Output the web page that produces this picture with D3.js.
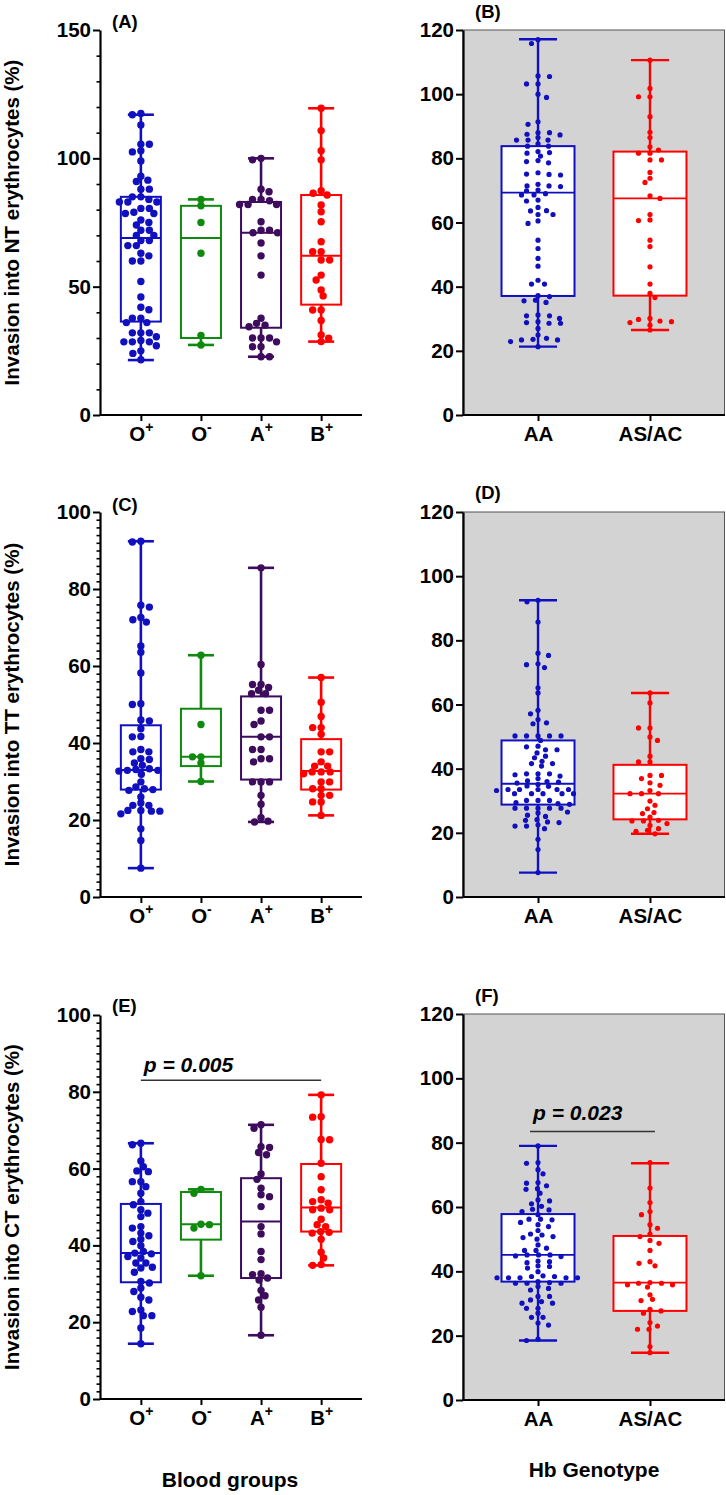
<!DOCTYPE html>
<html><head><meta charset="utf-8">
<script src="https://cdn.jsdelivr.net/npm/d3@7"></script>
<style>
body{margin:0;background:#fff}
svg{display:block}
text{font-family:"Liberation Sans",Arial,Helvetica,sans-serif;font-weight:bold}
</style>
</head><body>
<svg id="c" width="726" height="1495"></svg>
<script>
// ---------------- DATA ----------------
const bloodGroups = ["O+", "O-", "A+", "B+"];
const hbGenotypes = ["AA", "AS/AC"];
const bloodColors = ["#1010c0", "#0f8a0f", "#3d0c5c", "#ff0000"];
const hbColors = ["#1010c0", "#ff0000"];

const ticksNT = [0, 50, 100, 150];
const ticks100 = [0, 20, 40, 60, 80, 100];
const ticks120 = [0, 20, 40, 60, 80, 100, 120];

// box stats: [min, Q1, median, Q3, max]
const ntBloodStats = [[21.4, 36.4, 69, 85, 117], [27.3, 30, 69, 81.5, 84], [22.7, 34, 71, 83, 100], [28.6, 43, 62, 85.7, 119.5]];
const ntBloodPts = [
  [117.5,117,113,105.5,105.5,103,102.5,99,93,91.5,91,88,88,85,85,83,84,83,83,80.5,79,80.5,78.5,78.5,76,75,74,72,72,70,70,68,68,66,66,63,62,60,60,52,46,42,41,37.7,37.7,36,36,32,32,32,30.5,27,29,28.5,28.5,28.5,25,24,21.5],
  [84,81.5,75,63,31,27.3],
  [100,99.4,88,87,84,84,82,82,82,83.5,75.3,72,72,71,71,67,62,54.5,37.7,35.7,35,34.4,30,28.5,30,30,26.6,26.6,22.7,22.7],
  [119.5,110.8,103,99.4,85.7,87.4,86.4,81.8,79.2,75.3,67.5,63.6,63.6,60.4,60.4,54.5,52.6,48.7,46.4,40.9,40.9,36.8,31.2,29.9,28.6]
];
const ntHbStats = [[21.3, 37.1, 69.3, 83.8, 117.1], [26.5, 37.2, 67.5, 82.1, 110.6]];
const ntHbPts = [
  [117,115.8,105.5,105.7,103.2,103.2,100,99,91.4,90.6,88,88,87.3,87.5,86.5,85.7,85.7,85.7,84.5,83.8,83.8,82.1,81.8,81.6,80.7,79,78.6,79.3,75.5,75.1,75,74.8,71.9,71.4,71.4,71.2,70.1,69.9,69,68.6,68.6,67,66.7,64.7,63.7,63.6,62.5,62.5,60.5,59.7,54.5,51.9,48.8,46.4,42,40.8,40.8,37.2,36.9,35.6,35.1,35.8,31.2,30.9,30.9,30.1,29.1,28.6,28.6,28.8,27,24.9,23.4,23.6,23.9,23.4,22.9,21.3],
  [110.6,101.8,99.2,99.2,93,88.1,86.5,83.6,82.6,81.6,81.6,79.5,79.5,75.6,73.8,72.5,68.3,67.5,62.5,60.8,60.6,54.5,52.5,46.2,40.8,37.9,36.6,30.1,29.8,29.3,29.1,28.8,28,26.5]
];

const ttBloodStats = [[7.5, 27.9, 33, 44.6, 92.4], [30, 34, 36.4, 48.9, 62.8], [19.5, 30.5, 41.6, 52.1, 85.5], [21.2, 27.9, 32.7, 41, 57]];
const ttBloodPts = [
  [92.4,92.2,75.8,75.3,72.6,72,71.4,65.2,63.6,58.2,50.2,50,46,45.7,43.7,41.7,41.6,38.3,37.7,37.7,35.9,35.7,34.8,34.2,33.3,33.1,32.9,32.7,32.9,31.9,29.9,28.6,28.1,27.9,27.7,26,24.4,23.8,23.8,22.5,22.3,22.5,22.3,21.6,17.7,14.7,7.5],
  [62.8,44.8,36.4,36.4,34.8,30],
  [85.5,60.4,55.2,55.2,54.4,53.7,52.8,52.8,48.5,48.5,45.7,44.8,41.6,41.6,38.3,38.3,35.9,35.9,35.1,29.9,29.9,29.9,26.4,24.1,20.6,19.7,19.5],
  [57,50.6,46.9,44,44,42.3,37.7,37.7,35.1,34,34,32.5,32.5,32.5,32,29.9,29.9,28.1,28.1,26.4,26.4,24.7,24.7,21.2]
];
const ttHbStats = [[7.6, 28.8, 35.3, 48.8, 92.5], [19.7, 24.2, 32.2, 41.2, 63.6]];
const ttHbPts = [
  [92.5,92,85.7,76,75.3,72.7,72.4,71.5,65.2,63.6,58.2,57.1,55.3,54.3,54,50.2,50.2,50.2,50.2,50.2,48.8,47,46.8,45.9,45.9,44.9,43.9,43.4,42.3,41.6,41.6,40.8,38.4,38.1,38.4,37.7,38.4,36.9,36.2,36,35.8,35.1,35.5,34.6,34.5,33.5,33.2,33.5,33.5,33.5,33.5,32.2,32.2,32.2,32.2,32.2,30.1,30.1,30.1,29.4,28.9,29.1,27.7,27.7,27.7,27.7,27.7,26.5,26.2,25.1,25.5,24.1,23.9,23.4,23.2,22.5,22.1,21.3,22.1,18,14.8,7.6],
  [63.6,60.5,52.7,52.7,49.9,48.8,43.9,42.1,42.1,37.9,37.9,36.9,35.6,34.8,33.2,32.2,32.2,32.2,29.9,28.6,27.5,26.3,26,24.9,23.9,23.7,23.7,22.9,22.3,21.3,20.8,20.5,19.7]
];

const ctBloodStats = [[14.4, 30.4, 38, 50.8, 66.6], [32.1, 41.5, 45.5, 53.9, 54.6], [16.6, 31.5, 46.2, 57.5, 71.4], [34.8, 43.6, 49.9, 61.2, 79.2]];
const ctBloodPts = [
  [66.6,66.2,62,60.5,59.4,59.2,56.6,56.6,55.3,53.6,51.4,50.6,49.3,48.4,47.5,44.9,44.5,43.2,42.5,41.6,41,39.9,38.4,37.8,38,37.1,36.7,35.4,35.4,34.3,34.1,33,30.6,30.2,28.9,28,26.5,25.8,23.2,22.8,21.7,21.7,18.5,14.4],
  [54.6,53.6,45.5,45.4,44.5,32.1],
  [71.4,70.5,65.7,65.5,64.2,63.6,58.6,57.2,54.9,53.2,52.7,50.1,44.9,43,38.4,36.3,32.6,32.4,31.5,31,28.3,26.9,25.8,23.9,16.6],
  [79.2,73.5,73.4,67.6,67.5,61.4,57.9,54.5,51.9,51.4,51,49.7,49.3,49.3,46.8,45.4,44.9,43.6,43.4,43.2,41.6,38.2,36.7,35,34.8]
];
const ctHbStats = [[18.5, 36.8, 45.1, 57.8, 79], [14.7, 27.7, 36.5, 51, 73.6]];
const ctHbPts = [
  [79,73.8,73.6,71.6,70.3,67.6,67.4,66.6,65.7,65.5,64.3,62.2,61.9,61,60.2,59.3,59.1,58.6,57.6,56.2,56,56.2,55.2,54.5,53.9,52.7,51.6,51.3,50.8,50.5,50,48.2,47.2,46.5,46.5,45.1,45.1,45.1,44.8,44.6,43.2,43,42.7,41.7,41.5,41,39.9,38.4,38,38,38,38,38,38.4,38.6,36.8,36.3,36.5,36.3,36.3,35.3,34.7,34.2,32.2,32.2,31.1,30.6,30.1,30.1,28.5,28.5,27,25.7,25.7,23.9,23.3,18.9,18.5],
  [73.8,65.9,61.4,58.6,57.6,54.5,53.4,51.6,50.8,49.6,48.7,46.5,43,42.5,41.7,36.5,36.3,36.3,35.8,35.8,35.1,32.7,31.3,30.9,28.2,27.7,27,24.1,23,22,22,16.6,14.7]
];

// significance annotations: [from category, to category, level, label]
const sigE = ["O+", "B+", 83, "p = 0.005"];
const sigF = ["AA", "AS/AC", 83.5, "p = 0.023"];

// ---------------- DRAW ----------------
const svg = d3.select("#c");
const FONT = '"Liberation Sans",Arial,Helvetica,sans-serif';

// beeswarm with elliptical spacing (wider horizontally, overlapping vertically)
function swarm(values, y, sx, sy) {
  const placed = [];
  const out = new Array(values.length);
  const order = values.map((v, i) => i).sort((a, b) => values[b] - values[a]);
  let flip = 1;
  for (const i of order) {
    const py = y(values[i]);
    let best = 0;
    for (let k = 0; k < 800; k++) {
      const off = (k % 2 === 0 ? 1 : -1) * flip * Math.ceil(k / 2) * 0.5;
      let ok = true;
      for (const p of placed) {
        const dx = (p.x - off) / sx, dy = (p.y - py) / sy;
        if (dx * dx + dy * dy < 1) { ok = false; break; }
      }
      if (ok) { best = off; break; }
    }
    if (best !== 0) flip = -flip;
    placed.push({ x: best, y: py });
    out[i] = best;
  }
  return out;
}

function drawPanel(cfg) {
  const g = svg.append("g");
  const x = d3.scalePoint().domain(cfg.cats).range([cfg.x0, cfg.x1]).padding(cfg.pad);
  const y = d3.scaleLinear().domain([0, cfg.yMax]).range([cfg.yBot, cfg.yTop]);

  if (cfg.gray) {
    g.append("rect").attr("x", cfg.x0).attr("y", cfg.yTop)
      .attr("width", cfg.x1 - cfg.x0 - 0.5).attr("height", cfg.yBot - cfg.yTop)
      .attr("fill", "#d3d3d3").attr("stroke", "#555").attr("stroke-width", 1);
  }

  cfg.cats.forEach((c, i) => {
    const [mn, q1, md, q3, mx] = cfg.stats[i];
    const cx = x(c), col = cfg.colors[i];
    const wg = g.append("g").attr("stroke", col).attr("fill", "none");
    wg.append("line").attr("x1", cx).attr("x2", cx).attr("y1", y(q3)).attr("y2", y(mx)).attr("stroke-width", cfg.ww);
    wg.append("line").attr("x1", cx).attr("x2", cx).attr("y1", y(q1)).attr("y2", y(mn)).attr("stroke-width", cfg.ww);
    [mn, mx].forEach(v => wg.append("line").attr("x1", cx - cfg.capHalf).attr("x2", cx + cfg.capHalf)
      .attr("y1", y(v)).attr("y2", y(v)).attr("stroke-width", cfg.ww));
    wg.append("rect").attr("x", cx - cfg.boxHalf).attr("y", y(q3))
      .attr("width", 2 * cfg.boxHalf).attr("height", y(q1) - y(q3))
      .attr("fill", cfg.gray ? "#fff" : "none").attr("stroke-width", 2);
    wg.append("line").attr("x1", cx - cfg.boxHalf).attr("x2", cx + cfg.boxHalf)
      .attr("y1", y(md)).attr("y2", y(md)).attr("stroke-width", cfg.mw);
    const offs = swarm(cfg.pts[i], y, cfg.sx, cfg.sy);
    g.append("g").selectAll("circle").data(cfg.pts[i]).join("circle")
      .attr("cx", (d, j) => cx + offs[j]).attr("cy", d => y(d)).attr("r", cfg.r).attr("fill", col);
  });

  // y axis
  if (cfg.minor) {
    const minorVals = d3.range(0, cfg.yMax + 0.001, cfg.minor).filter(v => cfg.ticks.indexOf(v) < 0);
    g.append("g").attr("transform", `translate(${cfg.x0},0)`)
      .call(d3.axisLeft(y).tickValues(minorVals).tickSize(3.5).tickFormat(""))
      .call(a => a.select(".domain").remove())
      .selectAll("line").attr("stroke-width", 1.6);
  }
  const ya = g.append("g").attr("transform", `translate(${cfg.x0},0)`)
    .call(d3.axisLeft(y).tickValues(cfg.ticks).tickSize(7).tickSizeOuter(0).tickPadding(2));
  ya.select(".domain").attr("stroke-width", 2.2);
  ya.selectAll(".tick line").attr("stroke-width", 2);
  ya.selectAll("text").attr("font-size", 20.5).attr("font-family", FONT).attr("font-weight", "bold");

  // x axis
  const xa = g.append("g").attr("transform", `translate(0,${cfg.yBot})`)
    .call(d3.axisBottom(x).tickSize(6).tickSizeOuter(0).tickPadding(5));
  xa.select(".domain").attr("stroke-width", 2.2).attr("d", `M${cfg.x0},0H${cfg.x1}`);
  xa.selectAll(".tick line").attr("stroke-width", 2);
  xa.selectAll("text").attr("font-size", 20.5).attr("font-family", FONT).attr("font-weight", "bold");
  if (cfg.sup) {
    xa.selectAll(".tick text").each(function (d) {
      const t = d3.select(this);
      t.text(null);
      t.append("tspan").text(d.slice(0, -1));
      t.append("tspan").text(d.slice(-1)).attr("font-size", 14).attr("dy", "-0.6em");
    });
  }

  // y title
  if (cfg.ylabel) {
    g.append("text").attr("transform", `translate(19,${(cfg.yTop + cfg.yBot) / 2}) rotate(-90)`)
      .attr("text-anchor", "middle").attr("font-size", 20.5).text(cfg.ylabel);
  }
  // panel letter
  g.append("text").attr("x", cfg.lx).attr("y", cfg.ly).attr("font-size", 18.5).text(cfg.label);

  // significance
  if (cfg.sig) {
    const [a, b, lvl, lab] = cfg.sig;
    g.append("line").attr("x1", x(a) + cfg.sigDx[0]).attr("x2", x(b) + cfg.sigDx[1])
      .attr("y1", y(lvl)).attr("y2", y(lvl)).attr("stroke", "#333").attr("stroke-width", 1.5);
    g.append("text").attr("x", x(a) + cfg.sigDx[0] + 3).attr("y", y(lvl) - cfg.sigTy)
      .attr("font-size", 21).attr("font-style", "italic").text(lab);
  }
  return g;
}

const leftBase = { x0: 100, x1: 362, pad: 0.68, cats: bloodGroups, colors: bloodColors, gray: false, boxHalf: 20, capHalf: 13, r: 3.7, sx: 8.5, sy: 6, ww: 2.6, mw: 2, sup: true, lx: 112 };
const rightBase = { x0: 463, x1: 725, pad: 0.67, cats: hbGenotypes, colors: hbColors, gray: true, boxHalf: 36.5, capHalf: 19, r: 2.6, sx: 11.5, sy: 4.6, ww: 2.4, mw: 1.8, sup: false, lx: 475, yMax: 120, ticks: ticks120, minor: 0 };

drawPanel(Object.assign({}, leftBase, { yTop: 30, yBot: 415, yMax: 150, ticks: ticksNT, minor: 10, stats: ntBloodStats, pts: ntBloodPts, ylabel: "Invasion into NT erythrocytes (%)", label: "(A)", ly: 28 }));
drawPanel(Object.assign({}, rightBase, { yTop: 30, yBot: 415, stats: ntHbStats, pts: ntHbPts, label: "(B)", ly: 18 }));
drawPanel(Object.assign({}, leftBase, { yTop: 512, yBot: 897, yMax: 100, ticks: ticks100, minor: 2, stats: ttBloodStats, pts: ttBloodPts, ylabel: "Invasion into TT erythrocytes (%)", label: "(C)", ly: 511 }));
drawPanel(Object.assign({}, rightBase, { yTop: 512, yBot: 897, stats: ttHbStats, pts: ttHbPts, label: "(D)", ly: 499 }));
drawPanel(Object.assign({}, leftBase, { yTop: 1015, yBot: 1399, yMax: 100, ticks: ticks100, minor: 2, stats: ctBloodStats, pts: ctBloodPts, ylabel: "Invasion into CT erythrocytes (%)", label: "(E)", ly: 1012, sig: sigE, sigDx: [0, 0], sigTy: 8 }));
drawPanel(Object.assign({}, rightBase, { yTop: 1014, yBot: 1400, stats: ctHbStats, pts: ctHbPts, label: "(F)", ly: 1002, sig: sigF, sigDx: [-8, 5], sigTy: 11 }));

svg.append("text").attr("x", 230).attr("y", 1487).attr("text-anchor", "middle").attr("font-size", 21).text("Blood groups");
svg.append("text").attr("x", 594).attr("y", 1477).attr("text-anchor", "middle").attr("font-size", 21).text("Hb Genotype");
</script>
</body></html>
